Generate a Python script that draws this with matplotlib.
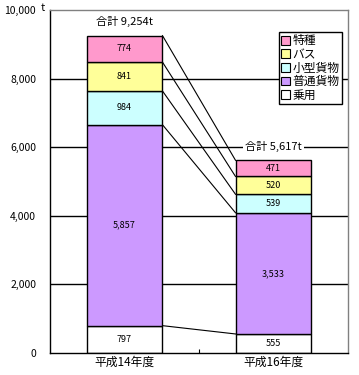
import numpy as np
import matplotlib
matplotlib.use("Agg")
import matplotlib.pyplot as plt
from matplotlib.patches import Patch

plt.rcParams['font.family'] = ['Noto Sans CJK JP', 'DejaVu Sans']

# --- data ---
years = ["平成14年度", "平成16年度"]
series = ["乗用", "普通貨物", "小型貨物", "バス", "特種"]
values = {
    "乗用":   [797, 555],
    "普通貨物": [5857, 3533],
    "小型貨物": [984, 539],
    "バス":   [841, 520],
    "特種":   [774, 471],
}
totals = [9254, 5617]
colors = {
    "乗用": "#FFFFFF",
    "普通貨物": "#CC99FF",
    "小型貨物": "#CCFFFF",
    "バス": "#FFFF99",
    "特種": "#FF99CC",
}
yticks = [0, 2000, 4000, 6000, 8000, 10000]

# --- figure ---
fig = plt.figure(figsize=(3.59, 3.75), dpi=100)
ax = fig.add_axes([50 / 359, 22 / 375, 298 / 359, 343 / 375])

x = np.arange(len(years))
width = 0.51

for y in yticks[1:-1]:
    ax.axhline(y, color="black", lw=1.0, zorder=0)

bottoms = np.zeros(len(years))
tops = []
for name in series:
    vals = np.array(values[name], dtype=float)
    ax.bar(x, vals, width, bottom=bottoms, color=colors[name],
           edgecolor="black", linewidth=1.0, zorder=2)
    for xi, v, b in zip(x, vals, bottoms):
        ax.text(xi, b + v / 2, f"{int(v):,}", ha="center", va="center",
                fontsize=6.5, zorder=3)
    bottoms = bottoms + vals
    tops.append(bottoms.copy())

# connector lines between segment tops
for t in tops:
    ax.plot([x[0] + width / 2, x[1] - width / 2], [t[0], t[1]],
            color="black", lw=0.8, zorder=1)

# totals
for xi, tot in zip(x, totals):
    ax.text(xi, tot + 400, f"合計 {tot:,}t", ha="center", va="center",
            fontsize=8, zorder=3,
            bbox=dict(facecolor="white", edgecolor="none", pad=1.5))

ax.set_xlim(-0.5, 1.5)
ax.set_ylim(0, 10000)
ax.set_yticks(yticks)
ax.set_yticklabels([f"{v:,}" for v in yticks], fontsize=7.5)
ax.tick_params(axis="y", length=0, pad=10)
ax.set_xticks(x)
ax.set_xticklabels(years, fontsize=8.5)
ax.tick_params(axis="x", length=0, pad=2)
ax.set_xticks([0.5], minor=True)
ax.tick_params(axis="x", which="minor", direction="in", length=3, width=0.8)

for side in ["left", "bottom"]:
    ax.spines[side].set_color("black")
    ax.spines[side].set_linewidth(1.0)
for side in ["top", "right"]:
    ax.spines[side].set_color("#808080")
    ax.spines[side].set_linewidth(1.0)

fig.text(41 / 359, 1 - 3 / 375, "t", fontsize=8, ha="left", va="top")

handles = [Patch(facecolor=colors[n], edgecolor="black", linewidth=0.8)
           for n in reversed(series)]
leg = ax.legend(handles, list(reversed(series)), loc="upper right",
                bbox_to_anchor=(0.98, 0.936), borderaxespad=0,
                fontsize=8.5, handlelength=0.75, handleheight=0.75,
                handletextpad=0.25, labelspacing=0.05, borderpad=0.2,
                fancybox=False, framealpha=1)
leg.get_frame().set_edgecolor("black")
leg.get_frame().set_linewidth(1.0)
leg.set_zorder(5)

fig.savefig("out.png", dpi=100)
